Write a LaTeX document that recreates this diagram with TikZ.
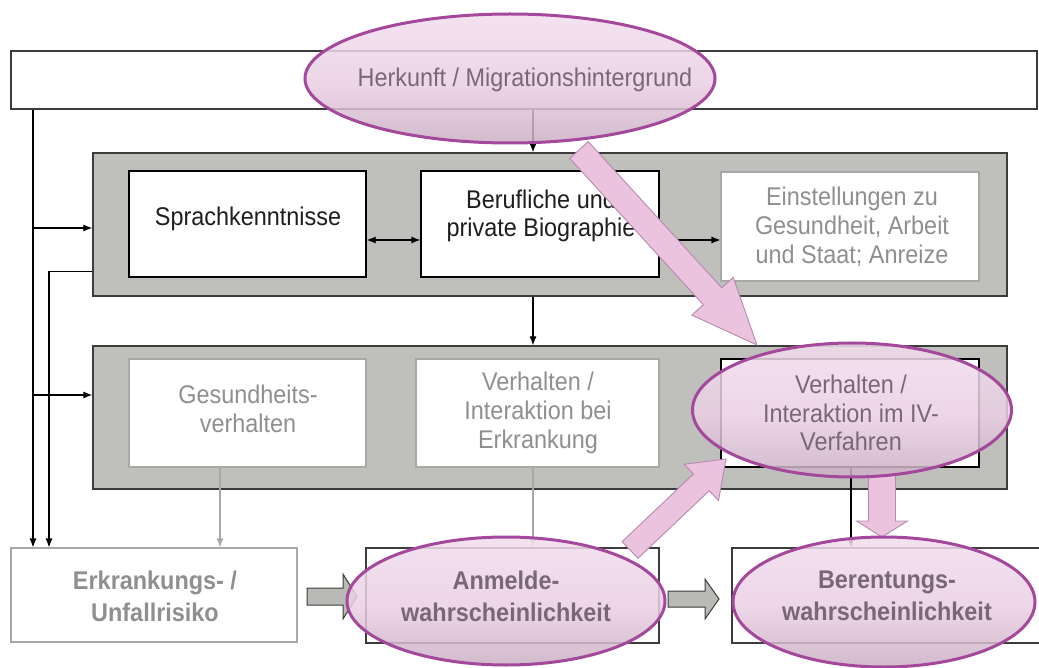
\documentclass[tikz,border=0pt]{standalone}
\usepackage{fontspec}
\setmainfont{Liberation Sans}
\newfontfamily\labelfont[FakeStretch=0.915]{Liberation Sans}
\usetikzlibrary{arrows.meta,calc,shapes.geometric}

\definecolor{panelfill}{HTML}{BFBFBB}
\definecolor{frame}{HTML}{3C3C3C}
\definecolor{softedge}{HTML}{A8A8A8}
\definecolor{fadetext}{HTML}{8F8F8F}
\definecolor{inktext}{HTML}{1E1E1E}
\definecolor{pinkfill}{HTML}{EBC3DF}
\definecolor{pinkedge}{HTML}{B58AAE}
\definecolor{ringedge}{HTML}{A4489C}
\definecolor{mauvetext}{HTML}{786877}
\definecolor{ringtop}{HTML}{F2DDED}
\definecolor{ringmid}{HTML}{E9CFE4}
\definecolor{ringlow}{HTML}{C9AFC4}
\definecolor{ringbot}{HTML}{9E889F}
\definecolor{stepfill}{HTML}{B9B9B5}

% soft pink fading to mauve-grey towards the lower rim
\pgfdeclareverticalshading{ringshade}{100bp}{%
  color(0bp)=(ringbot); color(25bp)=(ringlow); color(48bp)=(ringmid);
  color(75bp)=(ringtop); color(100bp)=(ringtop)}

% block arrow: name, tail, tip, half shaft width, half head width, head length, style
\newcommand\blockarrow[7]{%
  \coordinate (#1-h) at ($(#3)!#6!(#2)$);
  \draw[#7] ($(#2)!#4!90:(#3)$) -- ($(#1-h)!#4!90:(#3)$) -- ($(#1-h)!#5!90:(#3)$)
    -- (#3) -- ($(#1-h)!#5!-90:(#3)$) -- ($(#1-h)!#4!-90:(#3)$)
    -- ($(#2)!#4!-90:(#3)$) -- cycle;
}

\begin{document}
\begin{tikzpicture}[x=1pt,y=-1pt,
  panel/.style={draw=frame, line width=1.2pt, fill=panelfill, inner sep=0},
  card/.style={draw=black, line width=1.1pt, fill=white, inner sep=0},
  palecard/.style={draw=softedge, line width=1.1pt, fill=white, inner sep=0},
  txt/.style={align=center, inner sep=0, font=\labelfont\fontsize{25.6}{28.7}\selectfont},
  boldtxt/.style={align=center, inner sep=0, font=\labelfont\fontsize{25.6}{32}\selectfont\bfseries},
  ring/.style={ellipse, inner sep=0, draw=ringedge, line width=3pt,
    shading=ringshade, fill opacity=0.85},
  arr/.style={line width=1.1pt, black, -{Latex[length=9pt,width=7pt]}},
  dblarr/.style={line width=1.1pt, black, {Latex[length=9pt,width=7pt]}-{Latex[length=9pt,width=7pt]}},
  greyarr/.style={line width=1.1pt, softedge, -{Latex[length=9pt,width=7pt]}},
  pinkblock/.style={fill=pinkfill, draw=pinkedge, line width=0.9pt, line join=miter},
  greyblock/.style={fill=stepfill, draw=frame, line width=1pt, line join=miter}]
\useasboundingbox (0,0) rectangle (1039,668);

% guide columns for vertical connectors
\coordinate (railA) at (33,0);
\coordinate (railB) at (49,0);
\coordinate (spine) at (533,0);
\coordinate (healthx) at (220,0);

% top band
\node[draw=frame, line width=1.1pt, fill=white, minimum width=1026pt, minimum height=58pt, inner sep=0] (top) at (524,80) {};

% first panel
\node[panel, minimum width=914pt, minimum height=143pt] (g1) at (550,224.5) {};
\node[card, minimum width=237pt, minimum height=106pt] (sprach) at (247.5,224) {};
\node[card, minimum width=238pt, minimum height=106pt] (bio) at (540,224) {};
\node[palecard, minimum width=258pt, minimum height=109pt] (einst) at (850,226.5) {};

% second panel
\node[panel, minimum width=914pt, minimum height=143pt] (g2) at (550,417.5) {};
\node[palecard, minimum width=237pt, minimum height=108pt] (ges) at (247.5,413) {};
\node[palecard, minimum width=243pt, minimum height=108pt] (verh) at (537.5,413) {};
\node[card, minimum width=258pt, minimum height=108pt] (iv) at (850,413) {};

% outcome row
\node[palecard, minimum width=286pt, minimum height=94pt] (erk) at (154,595) {};
\node[card, draw=frame, minimum width=293pt, minimum height=95pt] (anm) at (512.5,595.5) {};
\node[card, draw=frame, minimum width=318pt, minimum height=95pt] (ber) at (891,595.5) {};

% connectors
\draw[arr] (top.south -| spine) -- (g1.north -| spine);
\draw[arr] (g1.south -| spine) -- (g2.north -| spine);
\draw[arr] (top.south -| railA) -- (erk.north -| railA);
\draw[arr] (railA |- 0,228) -- (g1.west |- 0,228);
\draw[arr] (railA |- 0,395) -- (g2.west |- 0,395);
\draw[arr] ($(g1.south west)+(0,-25)$) -| (erk.north -| railB);
\draw[dblarr] ($(sprach.east)+(0,16)$) -- ($(bio.west)+(0,16)$);
\draw[arr] ($(bio.east)+(0,16)$) -- ($(einst.west)+(0,13.5)$);
\draw[greyarr] (ges.south -| healthx) -- (erk.north -| healthx);
\draw[greyarr] (verh.south -| spine) -- (anm.north -| spine);
\draw[arr] ($(iv.south)+(1,0)$) -- ($(ber.north -| iv.south)+(1,0)$);

% box texts
\node[txt, text=inktext] (sprach-t) at (248,219) {Sprachkenntnisse};
\node[txt, text=inktext] (bio-t) at (541,216) {Berufliche und\\private Biographie};
\node[txt, text=fadetext] (einst-t) at (852,227) {Einstellungen zu\\Gesundheit, Arbeit\\und Staat; Anreize};
\node[txt, text=fadetext] (ges-t) at (248,409) {Gesundheits-\\verhalten};
\node[txt, text=fadetext] (verh-t) at (538,413) {Verhalten /\\Interaktion bei\\Erkrankung};
\node[boldtxt, text=fadetext] (erk-t) at (155,596) {Erkrankungs- /\\Unfallrisiko};

% grey step arrows along the outcome row
\coordinate (s1a) at (307,596.5);
\coordinate (s1b) at (357,596.5);
\coordinate (s2a) at (668,599);
\coordinate (s2b) at (719,599);
\blockarrow{s1}{s1a}{s1b}{8.5pt}{22.5pt}{14pt}{greyblock}
\blockarrow{s2}{s2a}{s2b}{8pt}{20pt}{14pt}{greyblock}

% pink emphasis arrows
\coordinate (p1a) at (579,150);
\coordinate (p1b) at (757,345);
\coordinate (p2a) at (630,550);
\coordinate (p2b) at (726,459);
\coordinate (p3a) at (882,470);
\coordinate (p3b) at (882,537);
\blockarrow{p1}{p1a}{p1b}{12.5pt}{28pt}{66pt}{pinkblock}
\blockarrow{p2}{p2a}{p2b}{11.5pt}{25pt}{34pt}{pinkblock}
\blockarrow{p3}{p3a}{p3b}{13.5pt}{25.5pt}{16pt}{pinkblock}

% highlight rings
\node[ring, minimum width=410pt, minimum height=129pt] (e1) at (510,78.5) {};
\node[ring, minimum width=319pt, minimum height=134pt] (e2) at (852,410) {};
\node[ring, minimum width=318pt, minimum height=128pt] (e3) at (506,601) {};
\node[ring, minimum width=302pt, minimum height=130pt] (e4) at (884,602) {};

% texts inside the rings
\node[txt, text=mauvetext] (e1-t) at (525,80) {Herkunft / Migrationshintergrund};
\node[txt, text=mauvetext] (e2-t) at (851,413) {Verhalten /\\Interaktion im IV-\\Verfahren};
\node[boldtxt, text=mauvetext] (e3-t) at (506,596) {Anmelde-\\wahrscheinlichkeit};
\node[boldtxt, text=mauvetext] (e4-t) at (887,596) {Berentungs-\\wahrscheinlichkeit};
\end{tikzpicture}
\end{document}
